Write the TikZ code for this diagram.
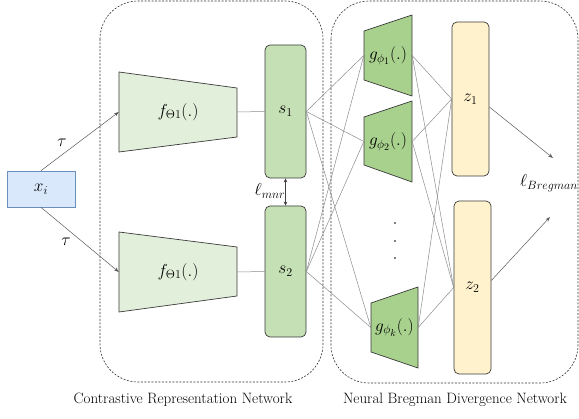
\documentclass[tikz,border=0pt]{standalone}
\usepackage{fontspec}
\usetikzlibrary{arrows.meta,calc}
\definecolor{xfill}{HTML}{DAE8FC}
\definecolor{xdraw}{HTML}{6C8EBF}
\definecolor{ffill}{HTML}{E2EFDA}
\definecolor{sfill}{HTML}{C5E0B4}
\definecolor{gfill}{HTML}{A9D18E}
\definecolor{zfill}{HTML}{FFF2CC}
\definecolor{edge}{HTML}{3A3A3A}
\definecolor{conn}{HTML}{8C8C8C}
\begin{document}
\begin{tikzpicture}[x=1pt,y=-1pt,
  lbl/.style={font=\fontsize{17.28}{19}\selectfont, inner sep=0pt},
  trap/.style={draw=edge, line width=0.7pt},
  rbox/.style={draw=edge, line width=0.7pt, rounded corners=5pt, inner sep=0pt, font=\fontsize{17.28}{19}\selectfont},
  dbox/.style={draw=black!80, dash pattern=on 2pt off 1.5pt, line width=0.6pt, rounded corners=38pt},
  wire/.style={draw=conn, line width=0.5pt},
  arr/.style={wire, draw=black!65, -{Stealth[length=5pt,width=3.5pt]}},
  caption/.style={font=\fontsize{15}{17}\selectfont, inner sep=0pt}]
\useasboundingbox (0,0) rectangle (579,419);

% dashed containers
\draw[dbox] (100,1) rectangle (323,382);
\draw[dbox] (331,1) rectangle (578,383);

% input
\node[draw=xdraw, fill=xfill, line width=0.7pt, minimum width=68pt, minimum height=36pt, inner sep=0pt, font=\fontsize{17.28}{19}\selectfont] (xi) at (41,189) {$x_i$};

% encoders f
\draw[trap, fill=ffill] (119,72) -- (237,88) -- (237,137) -- (119,152) -- cycle;
\draw[trap, fill=ffill] (119,232) -- (237,247) -- (237,296) -- (119,312) -- cycle;
\node[lbl, minimum width=118pt, minimum height=80pt] (f1) at (178,112) {$f_{\Theta1}(.)$};
\node[lbl, minimum width=118pt, minimum height=80pt] (f2) at (178,272) {$f_{\Theta1}(.)$};

% s boxes
\node[rbox, fill=sfill, minimum width=41pt, minimum height=133pt] (s1) at (285.5,111.5) {$s_1$};
\node[rbox, fill=sfill, minimum width=41pt, minimum height=131pt] (s2) at (285.5,271.5) {$s_2$};

% g trapezoids
\draw[trap, fill=gfill] (364,31) -- (412,15) -- (412,96) -- (364,80) -- cycle;
\draw[trap, fill=gfill] (364,117) -- (412,101) -- (412,182) -- (364,165) -- cycle;
\draw[trap, fill=gfill] (371,303) -- (418,287) -- (418,368) -- (371,352) -- cycle;
\node[lbl, minimum width=48pt, minimum height=81pt] (g1) at (388,55.5) {$g_{\phi_1}(.)$};
\node[lbl, minimum width=48pt, minimum height=81pt] (g2) at (388,141.5) {$g_{\phi_2}(.)$};
\node[lbl, minimum width=47pt, minimum height=81pt] (gk) at (394.5,327.5) {$g_{\phi_k}(.)$};

% z boxes
\node[rbox, fill=zfill, minimum width=37pt, minimum height=154pt] (z1) at (470.5,99) {$z_1$};
\node[rbox, fill=zfill, minimum width=37pt, minimum height=173pt] (z2) at (472.5,287.5) {$z_2$};

% dots
\foreach \yy in {223,241,258} \fill (395,\yy) circle (0.9pt);

% input arrows
\draw[arr] (xi.north) -- (f1.west);
\draw[arr] (xi.south) -- (f2.west);
\node[lbl] (t1) at (62,143) {$\tau$};
\node[lbl] (t2) at (66,242) {$\tau$};

% f to s
\draw[wire] (f1.east) -- (s1.west);
\draw[wire] (f2.east) -- (s2.west);

% mnr loss
\draw[draw=black!75, line width=0.5pt, {Stealth[length=4pt,width=3.5pt]}-{Stealth[length=4pt,width=3.5pt]}] (s1.south) -- (s2.north);
\node[lbl] (mnr) at (270,191) {$\ell_{mnr}$};

% s to g
\foreach \s in {s1,s2} \foreach \g in {g1,g2,gk} \draw[wire] (\s.east) -- (\g.west);
% g to z
\foreach \g in {g1,g2,gk} \foreach \z in {z1,z2} \draw[wire] (\g.east) -- (\z.west);

% outputs
\coordinate (bA) at (553,158);
\coordinate (bB) at (550,217);
\draw[arr] ([yshift=-8pt]z1.east) -- (bA);
\draw[arr] ([yshift=7pt]z2.east) -- (bB);
\node[lbl] (breg) at (549,183) {$\ell_{Bregman}$};

% captions
\node[caption] (cap1) at (183,400) {Contrastive Representation Network};
\node[caption] (cap2) at (455,400) {Neural Bregman Divergence Network};
\end{tikzpicture}
\end{document}
